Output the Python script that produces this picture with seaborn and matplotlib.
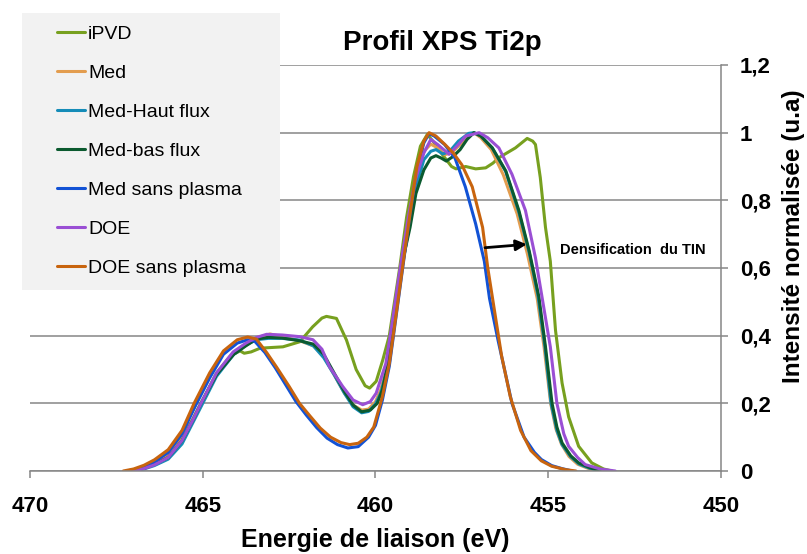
import numpy as np
import pandas as pd
import matplotlib
matplotlib.use("Agg")
import matplotlib.pyplot as plt
import seaborn as sns
from matplotlib.patches import Rectangle

# ---- data: binding energy (eV) and normalised Ti2p intensity per sample ----
series_names = ["iPVD", "Med", "Med-Haut flux", "Med-bas flux",
                "Med sans plasma", "DOE", "DOE sans plasma"]
series_colors = ["#77a01f", "#e39d4f", "#158cb8", "#0b5a2f",
                 "#1252d5", "#9a4fd4", "#c8640e"]

ipvd_e = [467.2, 466.9, 466.5, 466.1, 465.7, 465.3, 465.05, 464.6, 464.2, 463.92,
          463.8, 463.6, 463.34, 462.68, 462.19, 461.82, 461.55, 461.42, 461.13,
          460.84, 460.56, 460.3, 460.17, 459.98, 459.79, 459.6, 459.3, 459.1, 458.9,
          458.7, 458.5, 458.3, 458.07, 457.8, 457.67, 457.39, 457.1, 456.81, 456.6,
          456.43, 455.95, 455.61, 455.45, 455.37, 455.23, 455.08, 454.94, 454.79,
          454.6, 454.41, 454.12, 453.74, 453.4, 453.16]
ipvd_i = [0.0, 0.006, 0.02, 0.042, 0.09, 0.15, 0.2, 0.29, 0.34, 0.355,
          0.348, 0.352, 0.363, 0.367, 0.382, 0.426, 0.452, 0.457, 0.451,
          0.387, 0.3, 0.252, 0.245, 0.265, 0.328, 0.4, 0.6, 0.75, 0.87,
          0.96, 0.995, 0.97, 0.936, 0.9, 0.893, 0.9, 0.893, 0.896, 0.91,
          0.926, 0.955, 0.983, 0.975, 0.965, 0.867, 0.72, 0.62, 0.416,
          0.26, 0.16, 0.073, 0.024, 0.006, 0.0]

med_e = [467.1, 466.8, 466.4, 466.0, 465.6, 465.3, 465.05, 464.6, 464.1, 463.75,
         463.4, 463.05, 462.7, 462.2, 461.8, 461.5, 461.2, 460.9, 460.65, 460.4,
         460.2, 460.0, 459.85, 459.64, 459.45, 459.26, 459.0, 458.8, 458.6, 458.4,
         458.2, 458.0, 457.8, 457.55, 457.3, 457.15, 456.95, 456.65, 456.3, 455.9,
         455.6, 455.32, 455.12, 454.93, 454.78, 454.62, 454.4, 454.15, 453.8, 453.5]
med_i = [0.0, 0.008, 0.022, 0.045, 0.095, 0.15, 0.2, 0.285, 0.35, 0.375,
         0.395, 0.405, 0.397, 0.385, 0.37, 0.34, 0.285, 0.23, 0.195, 0.18,
         0.183, 0.205, 0.24, 0.32, 0.465, 0.61, 0.77, 0.88, 0.945, 0.966,
         0.955, 0.935, 0.94, 0.965, 0.99, 1.0, 0.985, 0.95, 0.875, 0.76,
         0.64, 0.51, 0.365, 0.2, 0.125, 0.08, 0.043, 0.02, 0.006, 0.0]

haut_e = [467.0, 466.7, 466.4, 466.0, 465.6, 465.3, 465.0, 464.6, 464.1, 463.75,
          463.45, 463.1, 462.7, 462.2, 461.8, 461.5, 461.2, 460.9, 460.65, 460.4,
          460.2, 460.0, 459.85, 459.64, 459.45, 459.26, 459.0, 458.8, 458.6, 458.4,
          458.25, 458.05, 457.85, 457.6, 457.3, 457.15, 456.95, 456.62, 456.23,
          455.85, 455.55, 455.3, 455.1, 454.92, 454.75, 454.6, 454.35, 454.1,
          453.8, 453.5]
haut_i = [0.0, 0.006, 0.016, 0.035, 0.08, 0.14, 0.2, 0.28, 0.345, 0.372,
          0.388, 0.392, 0.392, 0.387, 0.37, 0.335, 0.285, 0.23, 0.19, 0.172,
          0.176, 0.198, 0.23, 0.31, 0.45, 0.585, 0.74, 0.85, 0.92, 0.945,
          0.95, 0.937, 0.945, 0.975, 0.998, 1.0, 0.99, 0.955, 0.885,
          0.765, 0.645, 0.52, 0.37, 0.2, 0.12, 0.078, 0.042, 0.02,
          0.008, 0.0]

bas_e = [467.0, 466.7, 466.4, 466.0, 465.6, 465.3, 465.05, 464.6, 464.1, 463.75,
         463.45, 463.1, 462.7, 462.2, 461.8, 461.5, 461.2, 460.9, 460.65, 460.4,
         460.15, 459.95, 459.8, 459.64, 459.45, 459.26, 459.0, 458.83, 458.6, 458.4,
         458.25, 458.1, 457.95, 457.75, 457.55, 457.35, 457.15, 456.95, 456.62,
         456.23, 455.85, 455.55, 455.27, 455.08, 454.89, 454.75, 454.6, 454.35,
         454.12, 453.8, 453.5]
bas_i = [0.0, 0.008, 0.02, 0.04, 0.09, 0.148, 0.2, 0.285, 0.345, 0.37,
         0.39, 0.395, 0.393, 0.385, 0.375, 0.345, 0.29, 0.235, 0.195, 0.175,
         0.18, 0.2, 0.24, 0.318, 0.465, 0.6, 0.72, 0.82, 0.89, 0.925,
         0.932, 0.925, 0.916, 0.93, 0.95, 0.98, 1.0, 0.99, 0.955,
         0.887, 0.77, 0.65, 0.514, 0.367, 0.2, 0.13, 0.083, 0.045,
         0.024, 0.01, 0.0]

msp_e = [467.2, 467.0, 466.7, 466.4, 466.0, 465.6, 465.2, 464.8, 464.4, 464.0,
         463.7, 463.5, 463.2, 462.9, 462.6, 462.3, 462.0, 461.7, 461.4, 461.1,
         460.8, 460.5, 460.2, 460.0, 459.8, 459.6, 459.4, 459.2, 459.0, 458.8,
         458.6, 458.45, 458.3, 458.0, 457.7, 457.4, 457.1, 456.85, 456.7, 456.45,
         456.05, 455.7, 455.4, 455.2, 454.9, 454.6, 454.3]
msp_i = [0.0, 0.003, 0.012, 0.027, 0.055, 0.11, 0.195, 0.275, 0.345, 0.378,
         0.388, 0.384, 0.35, 0.305, 0.255, 0.205, 0.165, 0.128, 0.097, 0.078,
         0.068, 0.072, 0.1, 0.135, 0.21, 0.31, 0.46, 0.61, 0.76, 0.89,
         0.97, 0.997, 0.99, 0.965, 0.925, 0.84, 0.73, 0.62, 0.51, 0.385,
         0.2, 0.1, 0.055, 0.034, 0.016, 0.007, 0.0]

doe_e = [467.0, 466.7, 466.4, 466.0, 465.6, 465.3, 465.05, 464.6, 464.12, 463.75,
         463.44, 463.15, 462.7, 462.19, 461.81, 461.55, 461.33, 460.95, 460.65,
         460.37, 460.15, 459.98, 459.7, 459.5, 459.3, 459.05, 458.85, 458.6, 458.4,
         458.2, 457.87, 457.6, 457.39, 457.0, 456.75, 456.43, 456.05, 455.66,
         455.37, 455.18, 454.94, 454.75, 454.55, 454.41, 454.15, 453.93, 453.5,
         453.06]
doe_i = [0.0, 0.007, 0.018, 0.04, 0.09, 0.148, 0.2, 0.29, 0.352, 0.378,
         0.395, 0.404, 0.402, 0.397, 0.388, 0.36, 0.308, 0.25, 0.21,
         0.196, 0.205, 0.23, 0.318, 0.45, 0.59, 0.75, 0.86, 0.94, 0.98,
         0.965, 0.936, 0.965, 0.99, 1.0, 0.985, 0.955, 0.877, 0.77,
         0.63, 0.514, 0.367, 0.2, 0.11, 0.073, 0.04, 0.019, 0.006,
         0.0]

dsp_e = [467.3, 467.0, 466.7, 466.4, 466.0, 465.6, 465.25, 464.8, 464.4, 464.0,
         463.7, 463.45, 463.15, 462.85, 462.5, 462.2, 461.9, 461.6, 461.3, 461.0,
         460.75, 460.5, 460.25, 460.05, 459.8, 459.6, 459.4, 459.2, 459.0, 458.8,
         458.6, 458.45, 458.25, 458.0, 457.75, 457.5, 457.2, 456.9, 456.75, 456.55,
         456.35, 456.1, 455.8, 455.5, 455.2, 454.9, 454.5, 454.2]
dsp_i = [0.0, 0.006, 0.017, 0.033, 0.063, 0.12, 0.2, 0.29, 0.355, 0.388,
         0.396, 0.39, 0.35, 0.305, 0.25, 0.2, 0.163, 0.127, 0.1, 0.084,
         0.078, 0.082, 0.1, 0.13, 0.22, 0.318, 0.465, 0.615, 0.76, 0.9,
         0.975, 1.0, 0.99, 0.966, 0.94, 0.905, 0.84, 0.72, 0.6, 0.47,
         0.34, 0.22, 0.12, 0.06, 0.03, 0.014, 0.004, 0.0]

x_ticks = [470, 465, 460, 455, 450]
y_ticks = [0, 0.2, 0.4, 0.6, 0.8, 1.0, 1.2]
y_tick_labels = ["0", "0,2", "0,4", "0,6", "0,8", "1", "1,2"]

# ---- long-form table for seaborn ----
energies = [ipvd_e, med_e, haut_e, bas_e, msp_e, doe_e, dsp_e]
intensities = [ipvd_i, med_i, haut_i, bas_i, msp_i, doe_i, dsp_i]
frames = []
for name, e, i in zip(series_names, energies, intensities):
    frames.append(pd.DataFrame({"Energie": e, "Intensite": i, "Echantillon": name}))
df = pd.concat(frames, ignore_index=True)

sns.set_theme(style="white")
plt.rcParams["font.family"] = ["Liberation Sans", "DejaVu Sans"]
plt.rcParams["text.color"] = "black"
plt.rcParams["axes.labelcolor"] = "black"

grey = "#868686"
fig = plt.figure(figsize=(8.07, 5.54), dpi=100)
ax = fig.add_axes([30 / 807, 1 - 471 / 554, 691 / 807, 406 / 554])

sns.lineplot(data=df, x="Energie", y="Intensite", hue="Echantillon",
             hue_order=series_names, palette=dict(zip(series_names, series_colors)),
             sort=False, estimator=None, linewidth=2.2, ax=ax)

ax.set_xlim(470, 450)
ax.set_ylim(0, 1.2)
ax.set_xticks(x_ticks)
ax.set_xticklabels([str(t) for t in x_ticks], fontsize=16, fontweight="bold")
ax.set_yticks(y_ticks)
ax.set_yticklabels(y_tick_labels, fontsize=16, fontweight="bold")
ax.yaxis.tick_right()
ax.yaxis.set_label_position("right")

ax.yaxis.grid(True, color=grey, linewidth=1.1)
ax.xaxis.grid(False)
for side in ["left", "top"]:
    ax.spines[side].set_visible(False)
for side in ["bottom", "right"]:
    ax.spines[side].set_color(grey)
    ax.spines[side].set_linewidth(1.1)
ax.tick_params(axis="x", direction="out", length=5, width=1.1, color=grey,
               pad=13, bottom=True, labelcolor="black")
ax.tick_params(axis="y", direction="out", length=5, width=1.1, color=grey,
               pad=8.5, right=True, left=False, labelcolor="black")

ax.set_xlabel("Energie de liaison (eV)", fontsize=18, fontweight="bold",
              labelpad=8, color="black")
ax.set_ylabel("Intensité normalisée (u.a)", fontsize=17.5, fontweight="bold",
              color="black")
ax.yaxis.set_label_coords(1.088, 0.579)
ax.set_title("Profil XPS Ti2p", fontsize=20, fontweight="bold", x=0.596, pad=11,
             color="black")

# annotation: shift of the main peak
ax.annotate("", xy=(455.62, 0.67), xytext=(456.83, 0.66),
            arrowprops=dict(arrowstyle="-|>", color="black", lw=2.0,
                            mutation_scale=16, shrinkA=0, shrinkB=0))
ax.text(454.66, 0.653, "Densification  du TIN", fontsize=10.5, fontweight="bold",
        ha="left", va="center", color="black")

# legend in a grey panel on the upper left
fig.patches.append(Rectangle((22 / 807, 1 - 290 / 554), 258 / 807, 277 / 554,
                             transform=fig.transFigure, facecolor="#f2f2f2",
                             edgecolor="none", zorder=3))
handles, labels = ax.get_legend_handles_labels()
ax.get_legend().remove()
leg = fig.legend(handles, labels, loc="upper left",
                 bbox_to_anchor=(57 / 807, 1 - 25 / 554), bbox_transform=fig.transFigure,
                 frameon=False, fontsize=14, handlelength=1.45, handletextpad=0.15,
                 labelspacing=1.1, borderpad=0, borderaxespad=0, labelcolor="black")
leg.set_zorder(4)
for line in leg.get_lines():
    line.set_linewidth(2.2)

fig.savefig("out.png", dpi=100)
